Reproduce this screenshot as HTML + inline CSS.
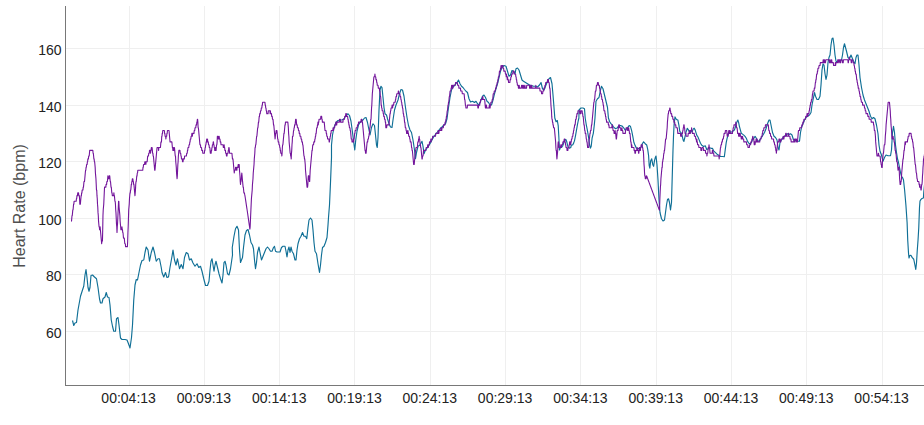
<!DOCTYPE html><html><head><meta charset="utf-8"><title>Heart Rate</title><style>html,body{margin:0;padding:0;background:#fff;}body{width:924px;height:425px;overflow:hidden;}svg{display:block;}text{font-family:"Liberation Sans",sans-serif;}</style></head><body>
<svg width="924" height="425" viewBox="0 0 924 425">
<rect width="924" height="425" fill="#fff"/>
<g stroke="#efefef" stroke-width="1" shape-rendering="crispEdges">
<line x1="129.5" y1="6" x2="129.5" y2="385"/>
<line x1="204.5" y1="6" x2="204.5" y2="385"/>
<line x1="279.5" y1="6" x2="279.5" y2="385"/>
<line x1="354.5" y1="6" x2="354.5" y2="385"/>
<line x1="430.5" y1="6" x2="430.5" y2="385"/>
<line x1="505.5" y1="6" x2="505.5" y2="385"/>
<line x1="580.5" y1="6" x2="580.5" y2="385"/>
<line x1="656.5" y1="6" x2="656.5" y2="385"/>
<line x1="731.5" y1="6" x2="731.5" y2="385"/>
<line x1="806.5" y1="6" x2="806.5" y2="385"/>
<line x1="882.5" y1="6" x2="882.5" y2="385"/>
<line x1="66" y1="48.5" x2="924" y2="48.5"/>
<line x1="66" y1="105.5" x2="924" y2="105.5"/>
<line x1="66" y1="161.5" x2="924" y2="161.5"/>
<line x1="66" y1="218.5" x2="924" y2="218.5"/>
<line x1="66" y1="274.5" x2="924" y2="274.5"/>
<line x1="66" y1="331.5" x2="924" y2="331.5"/>
</g>
<path d="M72.5,320.5 L73.75,325.5 L75,323 L76.5,322.5 L78,310 L80.5,296.25 L82.5,290 L83.75,286.25 L85,275 L86,269.5 L87,277.5 L88,287.5 L89,291.25 L90,287.5 L91,275.5 L92.5,275 L94.5,277 L96.5,278.75 L98,287.5 L99.5,298.75 L100.5,303 L102,303 L103,298.75 L105,297 L106.25,292.5 L107.5,297 L109,297.5 L110,305 L111.25,320 L112.5,326.25 L113.75,331.25 L115.5,331.25 L116.5,318.75 L118,317.5 L119,325 L120.5,338 L122,339.5 L125,339.5 L127,340 L128.5,343.75 L130,348 L131.5,337.5 L132.5,325 L133.75,300 L135,285 L136.25,279.5 L137.5,280 L139,272.5 L140.5,265 L142,260.5 L143.75,260 L145,252.5 L146.25,247 L148,250 L149.5,261.25 L151.25,252.5 L153,247 L154.5,252.5 L156.25,261.25 L158,258.75 L159.5,258.75 L161.25,267.5 L162,272.5 L163.75,277 L165.5,272.5 L167,277.5 L168.5,277 L170,267.5 L172,256.25 L173,250 L174.5,260 L176,265 L177.5,258.75 L179.5,268.75 L181.25,264.5 L183,268.75 L184.5,257.5 L186.25,252.5 L188,253.75 L189.5,260 L191.25,258.75 L193,263 L195,266.25 L197,263.75 L198.75,267.5 L200.5,266.25 L202,271.25 L203.75,278.75 L205.5,285.5 L207.5,285.5 L209,281.25 L210,270 L211,261.25 L212,258.75 L213,265 L214,271.25 L215,265 L216,261.25 L217.5,267.5 L219,273.75 L220.5,278.75 L222,283 L223,275 L224,262.5 L225,261.25 L226,265 L227.5,273.75 L229,275 L230.5,268.75 L232.5,255 L232.25,247.5 L234,236.25 L235.5,228.75 L237,226.25 L238.5,230 L239.5,250 L240.5,262.5 L241.5,260 L242.5,257.5 L243.5,247.5 L245,235 L246.5,230.5 L248,229.5 L249.5,235 L251,242.5 L252.5,245 L253.5,248.75 L254.5,260 L255.5,268.75 L256.5,262.5 L257.5,252.5 L259,247 L260,252.5 L261.5,260 L263,256.25 L264.5,252.5 L266,248.75 L267.5,247 L269,248.75 L270.5,251.25 L272,251.25 L273.5,247.5 L274.5,246.25 L275.5,251.25 L277,252 L280,252 L281.5,247.5 L283,246.25 L285,246.25 L286,251.25 L287,257 L288,250 L289,247 L290,252.5 L291,247 L292,251.25 L293.5,253.75 L295,260 L296,260 L297,250 L298,243.75 L299.5,238.75 L301,236.25 L302.5,232.5 L304,236.25 L305.5,236.25 L306.75,238.75 L308,227.5 L309,220 L310.5,218 L312,220 L313,230 L314,242.5 L315,251.25 L316.5,253.75 L318,263.75 L319.5,272.5 L320.5,265 L321.5,255 L322.5,247.5 L324,246.25 L325.5,242.5 L327,237.5 L328,225 L328.5,217.5 L329.5,205 L330.5,182.5 L331.5,157.5 L331.5,145 L332.5,135 L334,127.5 L336,122.5 L338,120.5 L340,120 L342,120 L344,118.75 L346,115.5 L348,113.75 L349.5,115.5 L351,121.25 L352.5,132.5 L353.75,142.5 L354.75,150 L355.75,140 L357,131.25 L358.5,125 L360,122.5 L361.5,121.25 L363,120 L364.5,118 L366,117.5 L367.5,122.5 L369,130 L370,135 L371.5,127.5 L373,123.75 L374.5,125.5 L375.5,135 L376.5,145 L377.25,147.5 L378,137.5 L379,110 L380,90 L381,86.25 L382,87.5 L383,97.5 L384,107.5 L385,113.75 L386.5,115 L387.5,118.75 L389,123.75 L390.5,127 L392,127.5 L393,120 L394.5,110 L396,105 L398,100 L399.5,93.75 L401,89.5 L402.5,90 L404,96.25 L405.5,107.5 L407,117.5 L408.5,125.5 L410,130 L411.5,132.5 L413,140 L414.5,150 L415.5,158.75 L416.5,152.5 L418,146.25 L420,145 L422,141.25 L423,146.25 L424,153.75 L425,151.25 L426.5,148.75 L428,147 L430,143.75 L432,140 L434,136.25 L436,133.75 L438,131.25 L440,128.75 L442,127 L444,125 L445.5,123.75 L447,118.75 L448.5,107.5 L450,97.5 L451.5,90 L453,87 L455,85 L457,82.5 L458.5,80 L460,83.75 L461.5,86.25 L463,87.5 L464.5,89.5 L466,91.25 L467.5,92.5 L469,98.75 L470.5,102 L472.5,101.25 L474.5,102.5 L476,101.25 L477.5,103.75 L479,105 L480.5,101.25 L482.5,96.25 L484,95 L485.5,97.5 L487,101.25 L488.5,102.5 L490,105 L491.5,105 L493,100 L494.5,93.75 L496,88.75 L497.5,83.75 L499,77.5 L500.5,71.25 L502,67.5 L504,65.5 L506,66.25 L507.5,71.25 L509,76.25 L510.5,75 L512,70.5 L513.5,71.25 L515,73.75 L516,68.75 L517.5,68 L519,70 L520.5,75 L522,80 L523.5,81.25 L525.5,82.5 L527.5,83.75 L529.5,85 L531.5,85.5 L533.5,86.25 L535.5,86.25 L537.5,87 L539.5,85 L541,82.5 L542.5,88.75 L544,90 L545.5,86.25 L547.5,81.25 L549,78.75 L550.5,77.5 L552,83.75 L553,95 L554,107.5 L554.81,118 L556.07,121.77 L557.32,120.51 L558.2,125.53 L558.83,136.83 L559.46,150.01 L560.71,146.87 L561.59,147.5 L562.6,146.25 L563.6,143.11 L564.48,140.6 L565.73,139.34 L566.61,141.22 L567.37,144.36 L568.25,147.5 L569.5,148.13 L570.76,147.5 L571.38,144.99 L572.64,144.99 L573.64,143.11 L574.52,140.6 L575.53,135.57 L576.4,130.55 L577.41,124.9 L578.29,120.51 L578.92,118 L579,110 L581,108 L583,108 L584.5,108.75 L585.19,118 L586.2,124.28 L587.45,130.55 L588.71,138.09 L589.59,144.99 L590.46,148.13 L591.22,146.25 L592.1,138.09 L593.35,133.06 L594.23,125.53 L594.98,118 L596,101.25 L597.5,98.75 L599,97.5 L600.5,90 L601.5,86.25 L603,88.75 L604.5,95 L606,101.25 L607.5,107.5 L608.42,118 L609.67,121.77 L610.93,123.65 L612.18,124.9 L613.44,126.79 L615.32,128.67 L617.2,128.04 L618.46,126.16 L620.34,125.53 L622.22,126.16 L623.86,128.04 L625.36,130.55 L626.62,128.67 L627.87,127.42 L629.13,125.53 L630.38,126.16 L631.64,130.55 L632.89,136.83 L633.9,142.48 L635.15,145.62 L636.41,148.13 L637.92,148.76 L639.8,148.13 L641.43,146.87 L642.31,143.73 L643.57,141.85 L645.2,143.73 L646.7,144.99 L647.71,149.38 L648.59,155.66 L649.21,165.7 L649.84,168.21 L650.72,160.68 L651.72,158.8 L652.73,164.45 L653.61,166.33 L654.49,160.68 L655.49,156.92 L656,156 L657,165 L658,180 L659,200 L660,212.5 L661.5,218.75 L663,221 L664.5,220 L665.5,212.5 L666.5,205 L667.5,199.5 L668.5,198.75 L669.5,202.5 L670.5,210 L671.5,202.5 L672,185 L672.5,167.5 L673,150 L673.5,136.38 L674.13,123.83 L675.01,116.93 L676.39,119.44 L677.89,120.06 L678.9,125.09 L679.78,131.36 L681.03,132.62 L682.29,136.38 L683.17,140.15 L683.92,141.4 L684.8,137.64 L686.05,131.99 L687.31,128.22 L688.56,130.11 L689.44,132.62 L690.7,131.99 L692.33,131.36 L693.33,128.85 L694.21,128.22 L695.22,130.11 L696.72,135.13 L697.98,137.01 L699.23,140.15 L700.49,143.29 L701.75,145.17 L703.63,146.43 L705.26,145.8 L706.77,149.56 L708.02,148.94 L709.28,147.68 L711.16,148.31 L712.42,148.31 L713.67,150.82 L714.93,152.08 L716.81,153.96 L718.69,155.21 L720.58,156.47 L722.46,156.47 L724.34,156.72 L725.35,148.94 L726.22,142.66 L727.1,138.27 L728.11,135.13 L729.36,131.99 L730.62,131.99 L731.87,131.99 L733.38,130.73 L734.38,130.11 L735.39,126.97 L736.27,123.83 L737.15,121.32 L737.9,120.06 L738.65,122.57 L739.41,126.34 L740.41,130.11 L741.29,133.25 L742.54,134.12 L743.8,135.13 L745.05,136.38 L746.31,138.27 L747.57,141.4 L748.82,143.29 L750.08,143.92 L751.33,142.66 L752.59,139.52 L753.84,138.27 L755.1,136.38 L756.35,138.27 L757.61,141.4 L758.86,140.78 L759.99,140.15 L760,139.5 L761.5,137.5 L763,135 L764.5,132.5 L766,128.75 L767.5,123.75 L769,120 L770,120 L771,125 L772.5,132.5 L774,136.25 L775.5,137.5 L777,140 L778,147.5 L779,150 L780,142.5 L781.5,140 L783,137.5 L784.5,136.25 L786,135 L787.5,133.75 L789,134.5 L790.5,133.75 L792,135 L793.5,140 L795,140 L796.5,141.25 L798,141.25 L799.5,141.25 L800.5,132.5 L801.5,127.5 L803,123.75 L804.5,120 L806,117.5 L807.5,116.25 L809.5,115 L811,112.5 L812,105 L813,100 L814.5,92.5 L815.5,96.25 L817,99.5 L818.5,99.5 L820,96.25 L821,85 L822,70 L823,63.75 L824,65 L825,73.75 L826,79.5 L827,75 L828,62.5 L829,57.5 L830,55 L831,45 L832,38.75 L833,38 L834,45 L835,55 L836,61.25 L837.5,62 L839.5,61.25 L841.5,60 L842.5,55 L843.5,47.5 L844.5,43.75 L845.5,47.5 L846.5,51.25 L848,57.5 L849.5,58.75 L851,55 L852,57.5 L853.5,61.25 L855,63.75 L856,57.5 L857,55 L858,55 L859,65 L860,77.5 L861.5,87.5 L863,95 L864.5,100 L866,103.75 L867.5,107.5 L869,111.25 L870.5,116.25 L872,118.75 L873.5,117.5 L875,118.75 L876.5,125 L878,133.75 L879,145 L880,151.25 L881.5,155 L883,161.25 L884.5,157.5 L886,155 L888,155.75 L890.5,155.75 L891.5,150 L892.5,132.5 L893.5,126.25 L894.5,132.5 L895.5,145 L896.5,152.5 L897.5,158.75 L898.5,162.5 L899.5,167.5 L900.5,172.5 L901.5,176.25 L902.5,177.5 L903.5,180 L904.6,190 L905.9,205 L907.1,222.5 L907.75,240.5 L908.5,253 L909,258 L909.75,255.5 L910.9,255.25 L912.1,257.4 L913.75,259.25 L915,265.5 L915.75,269.5 L916.5,263 L917.25,250.5 L918,240.5 L918.75,228 L919.5,207.5 L920,201 L921,199.4 L922,198.5 L923.4,198 L923.75,192.5 L924.5,185" fill="none" stroke="#0f6f96" stroke-width="1.15" stroke-linejoin="round"/>
<path d="M71.25,221.13 L71.51,221.13 L71.77,218.3 L72.03,215.47 L72.29,215.47 L72.55,212.64 L72.81,209.81 L73.07,209.81 L73.33,206.98 L73.59,204.15 L73.85,204.15 L74.11,201.32 L76.19,201.32 L76.45,198.49 L76.71,198.49 L76.97,195.66 L77.49,195.66 L77.75,192.83 L78.53,192.83 L78.79,195.66 L79.31,195.66 L79.57,198.49 L79.83,204.15 L80.35,204.15 L80.61,201.32 L80.87,198.49 L81.13,195.66 L81.39,195.66 L81.65,192.83 L81.91,192.83 L82.17,190 L82.95,190 L83.21,187.17 L83.47,187.17 L83.73,184.34 L83.99,181.51 L84.51,181.51 L84.77,178.68 L85.03,175.85 L85.29,173.02 L85.55,170.19 L85.81,170.19 L86.07,167.36 L86.33,167.36 L86.59,164.53 L87.11,164.53 L87.37,161.7 L87.63,161.7 L87.89,158.87 L88.41,158.87 L88.67,156.04 L88.93,156.04 L89.19,156.04 L89.45,153.21 L89.71,150.38 L92.83,150.38 L93.09,153.21 L93.35,153.21 L93.61,156.04 L93.87,158.87 L94.13,158.87 L94.39,161.7 L94.65,161.7 L94.91,164.53 L95.17,167.36 L95.43,173.02 L95.69,175.85 L95.95,178.68 L96.21,184.34 L96.47,190 L96.73,190 L96.99,195.66 L97.25,198.49 L97.51,204.15 L97.77,206.98 L98.03,212.64 L98.29,215.47 L98.55,221.13 L98.81,223.96 L99.07,226.79 L99.33,226.79 L99.59,229.62 L99.85,229.62 L100.11,226.79 L100.37,229.62 L100.63,232.45 L100.89,235.28 L101.15,238.11 L101.41,240.94 L101.67,243.77 L101.93,240.94 L102.45,240.94 L102.71,229.62 L102.97,215.47 L103.23,209.81 L103.49,206.98 L103.75,204.15 L104.01,198.49 L104.27,192.83 L104.53,187.17 L104.79,187.17 L105.05,187.17 L105.31,187.17 L105.57,187.17 L105.83,187.17 L106.09,184.34 L106.61,184.34 L106.87,181.51 L107.39,181.51 L107.65,178.68 L107.91,175.85 L108.17,178.68 L108.95,178.68 L109.21,175.85 L109.47,175.85 L109.73,175.85 L109.99,178.68 L110.25,181.51 L110.51,181.51 L110.77,184.34 L111.03,187.17 L111.29,187.17 L111.55,190 L111.81,192.83 L112.07,192.83 L112.33,195.66 L113.63,195.66 L113.89,192.83 L114.15,195.66 L114.41,195.66 L114.67,198.49 L114.93,201.32 L115.19,201.32 L115.45,204.15 L115.71,209.81 L115.97,212.64 L116.23,218.3 L116.49,223.96 L116.75,226.79 L117.01,232.45 L117.27,226.79 L117.53,223.96 L117.79,218.3 L118.05,212.64 L118.31,206.98 L118.57,201.32 L118.83,201.32 L119.09,206.98 L119.35,209.81 L119.61,212.64 L119.87,215.47 L120.13,221.13 L120.39,223.96 L120.65,226.79 L120.91,229.62 L121.69,229.62 L121.95,226.79 L122.21,229.62 L122.47,229.62 L122.73,232.45 L122.99,232.45 L123.25,235.28 L123.51,238.11 L124.29,238.11 L124.55,240.94 L124.81,243.77 L125.33,243.77 L125.59,246.6 L127.41,246.6 L127.67,240.94 L127.93,232.45 L128.19,226.79 L128.45,218.3 L128.71,209.81 L128.97,206.98 L129.23,204.15 L129.49,198.49 L129.75,195.66 L130.01,192.83 L130.27,192.83 L130.53,190 L130.79,190 L131.05,187.17 L131.31,184.34 L131.57,184.34 L131.83,181.51 L132.09,181.51 L132.35,178.68 L132.87,178.68 L133.13,181.51 L133.39,181.51 L133.65,184.34 L133.91,184.34 L134.17,187.17 L134.43,190 L134.69,192.83 L134.95,195.66 L135.21,192.83 L135.47,190 L135.73,184.34 L135.99,181.51 L136.25,181.51 L136.51,178.68 L136.77,175.85 L137.03,175.85 L137.29,173.02 L137.55,173.02 L137.81,170.19 L142.75,170.19 L143.01,167.36 L143.27,167.36 L143.53,164.53 L144.57,164.53 L144.83,161.7 L145.61,161.7 L145.87,164.53 L146.13,161.7 L147.17,161.7 L147.43,158.87 L147.69,156.04 L147.95,156.04 L148.21,156.04 L148.47,156.04 L148.73,153.21 L149.25,153.21 L149.51,150.38 L150.29,150.38 L150.55,153.21 L150.81,150.38 L151.07,150.38 L151.33,147.55 L152.11,147.55 L152.37,150.38 L152.63,153.21 L152.89,153.21 L153.15,156.04 L153.41,156.04 L153.67,158.87 L153.93,161.7 L154.19,164.53 L154.45,167.36 L154.71,170.19 L154.97,170.19 L155.23,167.36 L155.49,164.53 L155.75,161.7 L156.01,158.87 L156.27,156.04 L156.53,153.21 L156.79,150.38 L157.05,147.55 L158.35,147.55 L158.61,150.38 L158.87,147.55 L160.43,147.55 L160.69,144.72 L160.95,141.89 L161.47,141.89 L161.73,136.23 L161.99,136.23 L162.25,133.4 L162.51,133.4 L162.77,130.57 L164.33,130.57 L164.59,133.4 L164.85,133.4 L165.11,136.23 L165.37,136.23 L165.63,136.23 L165.89,139.06 L166.15,136.23 L166.41,136.23 L166.67,136.23 L166.93,133.4 L167.19,133.4 L167.45,130.57 L169.01,130.57 L169.27,133.4 L169.53,136.23 L169.79,139.06 L170.05,141.89 L171.87,141.89 L172.13,144.72 L172.39,147.55 L172.65,147.55 L172.91,150.38 L173.17,147.55 L173.43,147.55 L173.69,150.38 L173.95,150.38 L174.21,147.55 L174.47,147.55 L174.73,150.38 L174.99,153.21 L175.25,156.04 L175.51,156.04 L175.77,161.7 L176.03,164.53 L176.29,167.36 L176.55,173.02 L176.81,175.85 L177.07,178.68 L177.33,175.85 L177.59,170.19 L177.85,164.53 L178.11,161.7 L178.37,156.04 L178.63,153.21 L178.89,150.38 L179.93,150.38 L180.19,153.21 L180.71,153.21 L180.97,156.04 L181.23,156.04 L181.49,158.87 L182.27,158.87 L182.53,161.7 L183.05,161.7 L183.31,158.87 L184.35,158.87 L184.61,156.04 L184.87,156.04 L185.13,156.04 L185.39,156.04 L185.65,156.04 L185.91,156.04 L186.17,156.04 L186.43,156.04 L186.69,153.21 L187.21,153.21 L187.47,150.38 L187.73,150.38 L187.99,147.55 L188.77,147.55 L189.03,144.72 L189.55,144.72 L189.81,141.89 L190.07,141.89 L190.33,139.06 L190.85,139.06 L191.11,136.23 L191.37,136.23 L191.63,136.23 L191.89,133.4 L192.15,133.4 L192.41,136.23 L192.67,133.4 L193.97,133.4 L194.23,130.57 L194.75,130.57 L195.01,127.74 L195.27,127.74 L195.53,127.74 L195.79,127.74 L196.05,124.91 L196.57,124.91 L196.83,122.08 L197.09,122.08 L197.35,119.25 L197.61,119.25 L197.87,122.08 L198.13,127.74 L198.39,127.74 L198.65,130.57 L198.91,133.4 L199.17,136.23 L199.43,139.06 L199.69,141.89 L199.95,144.72 L200.47,144.72 L200.73,147.55 L201.51,147.55 L201.77,150.38 L202.55,150.38 L202.81,153.21 L204.37,153.21 L204.63,150.38 L204.89,150.38 L205.15,147.55 L205.41,147.55 L205.67,144.72 L205.93,144.72 L206.19,141.89 L206.45,141.89 L206.71,139.06 L206.97,141.89 L207.23,141.89 L207.49,139.06 L207.75,141.89 L208.27,141.89 L208.53,144.72 L209.05,144.72 L209.31,147.55 L209.83,147.55 L210.09,150.38 L210.35,153.21 L211.13,153.21 L211.39,150.38 L211.65,150.38 L211.91,147.55 L212.17,147.55 L212.43,144.72 L212.95,144.72 L213.21,141.89 L213.47,141.89 L213.73,144.72 L213.99,144.72 L214.25,147.55 L214.51,147.55 L214.77,150.38 L215.03,150.38 L215.29,147.55 L215.55,147.55 L215.81,150.38 L216.07,150.38 L216.33,147.55 L216.59,144.72 L216.85,144.72 L217.11,141.89 L217.37,136.23 L217.63,136.23 L217.89,136.23 L218.15,136.23 L218.41,139.06 L218.67,139.06 L218.93,136.23 L219.19,136.23 L219.45,139.06 L219.97,139.06 L220.23,141.89 L220.75,141.89 L221.01,144.72 L223.09,144.72 L223.35,147.55 L223.87,147.55 L224.13,144.72 L224.39,147.55 L224.65,147.55 L224.91,150.38 L225.43,150.38 L225.69,153.21 L226.21,153.21 L226.47,156.04 L226.73,156.04 L226.99,156.04 L227.25,153.21 L228.03,153.21 L228.29,150.38 L228.55,150.38 L228.81,147.55 L229.07,147.55 L229.33,150.38 L229.59,153.21 L231.93,153.21 L232.19,156.04 L232.45,158.87 L232.97,158.87 L233.23,161.7 L233.49,164.53 L233.75,167.36 L234.01,170.19 L234.27,173.02 L234.53,170.19 L235.31,170.19 L235.57,167.36 L236.35,167.36 L236.61,170.19 L236.87,170.19 L237.13,167.36 L237.91,167.36 L238.17,164.53 L238.69,164.53 L238.95,167.36 L239.21,164.53 L239.47,170.19 L239.73,173.02 L239.99,175.85 L240.25,181.51 L240.51,184.34 L240.77,181.51 L241.03,181.51 L241.29,178.68 L241.55,175.85 L241.81,173.02 L242.07,175.85 L242.33,178.68 L242.59,181.51 L242.85,184.34 L243.11,187.17 L243.37,187.17 L243.63,190 L243.89,192.83 L244.41,192.83 L244.67,194.39 L244.93,195.66 L245.19,197.25 L245.45,198.97 L245.71,200.69 L245.97,202.4 L246.23,204.12 L246.49,205.83 L246.75,207.55 L247.01,209.27 L247.27,210.98 L247.53,212.71 L247.79,214.53 L248.05,216.35 L248.31,218.17 L248.57,219.99 L248.83,221.81 L249.09,223.63 L249.35,225.45 L249.61,227.27 L249.87,229.09 L250.13,227.14 L250.39,221.13 L250.65,215.47 L250.91,209.81 L251.17,204.15 L251.43,198.49 L251.69,195.66 L251.95,192.83 L252.21,190 L252.47,184.34 L252.73,181.51 L252.99,178.68 L253.25,173.02 L253.51,170.19 L253.77,167.36 L254.03,164.53 L254.29,158.87 L254.55,156.04 L254.81,153.21 L255.07,147.55 L255.33,147.55 L255.59,144.72 L255.85,144.72 L256.11,141.89 L256.37,139.06 L256.63,136.23 L256.89,136.23 L257.15,133.4 L257.41,130.57 L257.67,127.74 L257.93,127.74 L258.19,124.91 L258.45,122.08 L258.71,122.08 L258.97,119.25 L259.23,116.42 L259.49,116.42 L259.75,113.59 L260.27,113.59 L260.53,110.76 L261.05,110.76 L261.31,107.93 L261.83,107.93 L262.09,105.1 L262.35,105.1 L262.61,102.27 L262.87,102.27 L263.13,102.27 L263.39,102.27 L263.65,102.27 L263.91,102.27 L264.17,102.27 L264.43,102.27 L264.69,102.27 L264.95,102.27 L265.21,105.1 L265.47,105.1 L265.73,107.93 L265.99,107.93 L266.25,110.76 L266.51,110.76 L266.77,113.59 L268.07,113.59 L268.33,110.76 L269.89,110.76 L270.15,113.59 L270.41,110.76 L270.67,113.59 L271.45,113.59 L271.71,116.42 L272.23,116.42 L272.49,119.25 L273.01,119.25 L273.27,122.08 L273.53,124.91 L273.79,124.91 L274.05,127.74 L274.31,130.57 L274.57,133.4 L274.83,136.23 L275.09,139.06 L275.35,136.23 L275.61,133.4 L275.87,133.4 L276.13,130.57 L276.91,130.57 L277.17,133.4 L277.43,136.23 L277.69,139.06 L277.95,139.06 L278.21,141.89 L278.73,141.89 L278.99,144.72 L279.51,144.72 L279.77,147.55 L280.03,147.55 L280.29,150.38 L280.55,150.38 L280.81,153.21 L281.59,153.21 L281.85,156.04 L282.11,153.21 L282.37,147.55 L282.63,144.72 L282.89,144.72 L283.15,141.89 L283.41,139.06 L283.67,136.23 L283.93,133.4 L284.19,133.4 L284.45,130.57 L284.71,127.74 L284.97,124.91 L285.23,124.91 L285.49,122.08 L287.83,122.08 L288.09,124.91 L288.35,127.74 L288.61,133.4 L288.87,136.23 L289.13,141.89 L289.39,144.72 L289.65,147.55 L289.91,150.38 L290.17,153.21 L290.43,153.21 L290.69,156.04 L290.95,156.04 L291.21,158.87 L291.47,153.21 L291.73,150.38 L291.99,144.72 L292.25,141.89 L292.51,136.23 L292.77,136.23 L293.03,136.23 L293.29,133.4 L293.55,130.57 L293.81,130.57 L294.07,127.74 L294.33,127.74 L294.59,124.91 L295.11,124.91 L295.37,122.08 L295.63,119.25 L296.15,119.25 L296.41,122.08 L296.67,124.91 L297.19,124.91 L297.45,127.74 L297.71,127.74 L297.97,127.74 L298.23,127.74 L298.49,130.57 L299.01,130.57 L299.27,133.4 L299.79,133.4 L300.05,136.23 L300.31,136.23 L300.57,136.23 L300.83,136.23 L301.09,139.06 L301.61,139.06 L301.87,141.89 L302.39,141.89 L302.65,144.72 L302.91,144.72 L303.17,147.55 L303.43,150.38 L303.69,153.21 L303.95,156.04 L304.21,156.04 L304.47,158.87 L304.73,158.87 L304.99,161.7 L305.25,164.53 L305.51,170.19 L305.77,173.02 L306.03,175.85 L306.29,178.68 L306.55,181.51 L306.81,184.34 L307.07,187.17 L307.33,187.17 L307.59,187.17 L307.85,184.34 L308.11,178.68 L308.37,175.85 L308.63,175.85 L308.89,175.85 L309.15,178.68 L309.41,181.51 L309.67,181.51 L309.93,175.85 L310.19,170.19 L310.45,167.36 L310.71,164.53 L310.97,161.7 L311.23,158.87 L311.49,156.04 L311.75,153.21 L312.01,150.38 L312.27,150.38 L312.53,147.55 L312.79,144.72 L313.57,144.72 L313.83,141.89 L314.61,141.89 L314.87,139.06 L315.13,139.06 L315.39,136.23 L315.65,136.23 L315.91,133.4 L316.17,133.4 L316.43,130.57 L316.69,127.74 L316.95,127.74 L317.21,127.74 L317.47,124.91 L317.73,124.91 L317.99,122.08 L318.25,124.91 L318.51,122.08 L318.77,122.08 L319.03,119.25 L320.59,119.25 L320.85,116.42 L321.63,116.42 L321.89,119.25 L322.15,119.25 L322.41,122.08 L324.23,122.08 L324.49,124.91 L324.75,127.74 L325.01,130.57 L326.05,130.57 L326.31,133.4 L326.57,133.4 L326.83,136.23 L327.09,136.23 L327.35,136.23 L327.61,139.06 L328.91,139.06 L329.17,141.89 L329.43,141.89 L329.69,139.06 L329.95,139.06 L330.21,136.23 L330.47,136.23 L330.73,133.4 L330.99,133.4 L331.25,130.57 L332.81,130.57 L333.07,127.74 L333.33,130.57 L333.59,130.57 L333.85,127.74 L334.11,127.74 L334.37,127.74 L334.63,127.74 L334.89,124.91 L335.67,124.91 L335.93,122.08 L336.19,122.08 L336.45,124.91 L336.71,124.91 L336.97,122.08 L339.31,122.08 L339.57,119.25 L340.35,119.25 L340.61,122.08 L342.95,122.08 L343.21,119.25 L344.51,119.25 L344.77,116.42 L345.55,116.42 L345.81,113.59 L346.33,113.59 L346.59,116.42 L347.63,116.42 L347.89,119.25 L348.15,119.25 L348.41,122.08 L348.67,122.08 L348.93,124.91 L349.19,124.91 L349.45,127.74 L349.71,127.74 L349.97,127.74 L350.23,130.57 L350.49,130.57 L350.75,133.4 L351.01,136.23 L351.27,139.06 L351.79,139.06 L352.05,141.89 L353.09,141.89 L353.35,139.06 L353.61,141.89 L353.87,139.06 L354.13,139.06 L354.39,136.23 L354.65,133.4 L354.91,133.4 L355.17,130.57 L355.95,130.57 L356.21,127.74 L356.47,127.74 L356.73,127.74 L356.99,127.74 L357.25,127.74 L357.51,124.91 L358.29,124.91 L358.55,122.08 L360.89,122.08 L361.15,119.25 L361.93,119.25 L362.19,122.08 L362.45,122.08 L362.71,124.91 L362.97,127.74 L363.23,130.57 L363.49,133.4 L363.75,136.23 L364.01,139.06 L364.27,141.89 L364.53,144.72 L364.79,147.55 L365.05,150.38 L365.31,150.38 L365.57,153.21 L366.09,153.21 L366.35,150.38 L366.61,147.55 L366.87,144.72 L367.13,141.89 L367.65,141.89 L367.91,139.06 L368.43,139.06 L368.69,136.23 L368.95,136.23 L369.21,133.4 L369.47,133.4 L369.73,127.74 L369.99,127.74 L370.25,124.91 L370.51,122.08 L370.77,119.25 L371.03,119.25 L371.29,113.59 L371.55,107.93 L371.81,105.1 L372.07,99.44 L372.33,93.78 L372.59,90.95 L372.85,88.12 L373.11,85.29 L373.37,82.46 L373.63,79.63 L373.89,76.8 L374.67,76.8 L374.93,73.97 L375.19,76.8 L375.71,76.8 L375.97,79.63 L376.49,79.63 L376.75,82.46 L377.01,82.46 L377.27,85.29 L377.53,85.29 L377.79,85.29 L378.05,85.29 L378.31,88.12 L379.35,88.12 L379.61,90.95 L379.87,90.95 L380.13,93.78 L380.39,96.61 L380.65,96.61 L380.91,99.44 L381.17,105.1 L381.43,105.1 L381.69,107.93 L381.95,107.93 L382.21,110.76 L382.99,110.76 L383.25,113.59 L383.51,113.59 L383.77,116.42 L384.29,116.42 L384.55,119.25 L385.07,119.25 L385.33,122.08 L385.59,122.08 L385.85,127.74 L386.11,127.74 L386.37,127.74 L386.63,127.74 L386.89,124.91 L388.97,124.91 L389.23,122.08 L389.49,119.25 L389.75,116.42 L390.01,113.59 L390.27,113.59 L390.53,110.76 L390.79,110.76 L391.05,107.93 L391.83,107.93 L392.09,105.1 L392.35,105.1 L392.61,107.93 L392.87,105.1 L393.65,105.1 L393.91,102.27 L394.17,102.27 L394.43,102.27 L394.69,102.27 L394.95,102.27 L395.21,102.27 L395.47,99.44 L395.73,99.44 L395.99,96.61 L396.51,96.61 L396.77,93.78 L398.07,93.78 L398.33,90.95 L398.59,90.95 L398.85,93.78 L399.89,93.78 L400.15,96.61 L400.67,96.61 L400.93,99.44 L401.19,99.44 L401.45,102.27 L401.71,102.27 L401.97,105.1 L402.23,105.1 L402.49,107.93 L402.75,107.93 L403.01,110.76 L403.27,113.59 L403.53,113.59 L403.79,116.42 L404.05,116.42 L404.31,119.25 L404.57,122.08 L404.83,122.08 L405.09,124.91 L405.35,127.74 L405.61,127.74 L405.87,127.74 L406.13,130.57 L406.39,130.57 L406.65,133.4 L407.43,133.4 L407.69,130.57 L407.95,130.57 L408.21,133.4 L408.47,133.4 L408.73,136.23 L408.99,136.23 L409.25,136.23 L409.51,136.23 L409.77,139.06 L410.03,139.06 L410.29,141.89 L411.07,141.89 L411.33,144.72 L411.59,147.55 L411.85,147.55 L412.11,150.38 L412.37,150.38 L412.63,153.21 L412.89,156.04 L413.15,158.87 L413.41,161.7 L413.67,164.53 L414.19,164.53 L414.45,161.7 L414.71,158.87 L414.97,156.04 L415.23,153.21 L415.49,150.38 L415.75,150.38 L416.01,147.55 L417.31,147.55 L417.57,144.72 L417.83,141.89 L418.35,141.89 L418.61,139.06 L418.87,139.06 L419.13,136.23 L419.39,139.06 L419.65,139.06 L419.91,141.89 L420.17,144.72 L420.43,144.72 L420.69,147.55 L420.95,147.55 L421.21,150.38 L421.47,153.21 L421.73,156.04 L421.99,158.87 L422.25,158.87 L422.51,156.04 L422.77,156.04 L423.03,156.04 L423.29,153.21 L423.55,150.38 L425.89,150.38 L426.15,147.55 L427.45,147.55 L427.71,144.72 L427.97,147.55 L428.23,147.55 L428.49,144.72 L429.27,144.72 L429.53,141.89 L430.57,141.89 L430.83,139.06 L431.09,141.89 L431.35,139.06 L432.39,139.06 L432.65,136.23 L432.91,136.23 L433.17,136.23 L433.43,136.23 L433.69,136.23 L433.95,136.23 L434.21,136.23 L434.47,136.23 L434.73,136.23 L434.99,136.23 L435.25,136.23 L435.51,136.23 L435.77,133.4 L437.85,133.4 L438.11,130.57 L438.37,133.4 L438.63,130.57 L438.89,133.4 L439.15,130.57 L440.71,130.57 L440.97,127.74 L441.23,127.74 L441.49,130.57 L441.75,130.57 L442.01,127.74 L442.27,127.74 L442.53,127.74 L442.79,127.74 L443.05,127.74 L443.31,127.74 L443.57,124.91 L444.87,124.91 L445.13,122.08 L445.65,122.08 L445.91,119.25 L446.17,119.25 L446.43,116.42 L446.69,116.42 L446.95,113.59 L447.21,110.76 L447.47,110.76 L447.73,107.93 L447.99,105.1 L448.25,105.1 L448.51,102.27 L448.77,102.27 L449.03,99.44 L449.29,96.61 L449.55,96.61 L449.81,93.78 L450.07,90.95 L450.85,90.95 L451.11,88.12 L451.37,88.12 L451.63,85.29 L451.89,88.12 L452.15,88.12 L452.41,85.29 L452.67,85.29 L452.93,88.12 L453.19,85.29 L453.45,85.29 L453.71,85.29 L453.97,85.29 L454.23,85.29 L454.49,85.29 L454.75,85.29 L455.01,85.29 L455.27,85.29 L455.53,82.46 L455.79,82.46 L456.05,82.46 L456.31,82.46 L456.57,82.46 L456.83,82.46 L457.09,82.46 L457.35,82.46 L457.61,85.29 L457.87,85.29 L458.13,85.29 L458.39,85.29 L458.65,85.29 L458.91,88.12 L460.47,88.12 L460.73,90.95 L462.03,90.95 L462.29,93.78 L464.11,93.78 L464.37,96.61 L464.63,99.44 L464.89,99.44 L465.15,102.27 L465.41,105.1 L465.67,105.1 L465.93,107.93 L467.23,107.93 L467.49,105.1 L477.63,105.1 L477.89,107.93 L478.41,107.93 L478.67,105.1 L479.71,105.1 L479.97,102.27 L480.23,102.27 L480.49,102.27 L480.75,99.44 L482.31,99.44 L482.57,96.61 L482.83,96.61 L483.09,99.44 L484.65,99.44 L484.91,102.27 L485.17,105.1 L485.43,107.93 L485.95,107.93 L486.21,105.1 L486.47,105.1 L486.73,107.93 L489.07,107.93 L489.33,105.1 L489.59,105.1 L489.85,107.93 L490.11,107.93 L490.37,105.1 L490.63,105.1 L490.89,102.27 L491.15,102.27 L491.41,102.27 L491.67,102.27 L491.93,102.27 L492.19,99.44 L492.71,99.44 L492.97,96.61 L493.23,93.78 L494.01,93.78 L494.27,90.95 L495.31,90.95 L495.57,88.12 L496.09,88.12 L496.35,85.29 L496.61,85.29 L496.87,85.29 L497.13,82.46 L497.39,82.46 L497.65,82.46 L497.91,79.63 L498.17,79.63 L498.43,76.8 L498.95,76.8 L499.21,73.97 L499.47,71.14 L500.25,71.14 L500.51,68.31 L500.77,68.31 L501.03,65.48 L501.29,68.31 L501.55,68.31 L501.81,65.48 L502.85,65.48 L503.11,68.31 L503.63,68.31 L503.89,71.14 L505.19,71.14 L505.45,73.97 L505.97,73.97 L506.23,76.8 L506.49,73.97 L506.75,76.8 L507.01,76.8 L507.27,79.63 L507.53,76.8 L507.79,79.63 L508.31,79.63 L508.57,82.46 L508.83,82.46 L509.09,82.46 L509.35,82.46 L509.61,82.46 L509.87,82.46 L510.13,79.63 L510.65,79.63 L510.91,76.8 L511.43,76.8 L511.69,73.97 L512.73,73.97 L512.99,71.14 L514.03,71.14 L514.29,73.97 L515.59,73.97 L515.85,76.8 L516.11,76.8 L516.37,79.63 L516.63,79.63 L516.89,82.46 L517.15,82.46 L517.41,85.29 L517.67,85.29 L517.93,85.29 L518.19,85.29 L518.45,88.12 L518.71,88.12 L518.97,85.29 L519.23,85.29 L519.49,88.12 L521.31,88.12 L521.57,85.29 L521.83,85.29 L522.09,85.29 L522.35,85.29 L522.61,88.12 L522.87,88.12 L523.13,85.29 L523.39,85.29 L523.65,88.12 L524.43,88.12 L524.69,85.29 L524.95,85.29 L525.21,88.12 L526.51,88.12 L526.77,85.29 L527.03,85.29 L527.29,85.29 L527.55,85.29 L527.81,85.29 L528.07,85.29 L528.33,85.29 L528.59,85.29 L528.85,85.29 L529.11,85.29 L529.37,85.29 L529.63,88.12 L529.89,85.29 L530.15,85.29 L530.41,88.12 L531.19,88.12 L531.45,85.29 L531.71,85.29 L531.97,88.12 L535.61,88.12 L535.87,85.29 L536.13,88.12 L539.77,88.12 L540.03,90.95 L541.33,90.95 L541.59,93.78 L542.63,93.78 L542.89,90.95 L543.67,90.95 L543.93,88.12 L544.71,88.12 L544.97,85.29 L545.23,85.29 L545.49,85.29 L545.75,82.46 L546.01,82.46 L546.27,82.46 L546.53,82.46 L546.79,82.46 L547.05,82.46 L547.31,82.46 L547.57,79.63 L548.35,79.63 L548.61,82.46 L548.87,82.46 L549.13,82.46 L549.39,85.29 L549.65,88.12 L549.91,88.12 L550.17,90.95 L550.43,96.61 L550.69,99.44 L550.95,105.1 L551.21,107.93 L551.47,110.76 L551.73,116.42 L551.99,119.25 L552.25,119.25 L552.51,122.08 L552.77,122.08 L553.03,124.91 L553.29,124.91 L553.55,127.74 L553.81,127.74 L554.07,127.74 L554.33,127.74 L554.59,130.57 L554.85,133.4 L555.11,136.23 L555.37,139.06 L555.63,141.89 L555.89,147.55 L556.15,150.38 L556.41,150.38 L556.67,156.04 L556.93,158.87 L557.19,156.04 L557.45,153.21 L557.71,150.38 L557.97,144.72 L558.23,141.89 L558.49,141.89 L558.75,144.72 L559.01,147.55 L560.57,147.55 L560.83,144.72 L561.09,147.55 L561.35,147.55 L561.61,144.72 L562.65,144.72 L562.91,141.89 L563.95,141.89 L564.21,139.06 L564.73,139.06 L564.99,141.89 L565.25,141.89 L565.51,144.72 L565.77,144.72 L566.03,147.55 L566.81,147.55 L567.07,150.38 L567.85,150.38 L568.11,147.55 L568.89,147.55 L569.15,144.72 L569.41,144.72 L569.67,141.89 L569.93,141.89 L570.19,144.72 L570.45,141.89 L570.71,144.72 L570.97,141.89 L571.23,141.89 L571.49,139.06 L572.01,139.06 L572.27,136.23 L572.53,136.23 L572.79,136.23 L573.05,133.4 L573.31,133.4 L573.57,130.57 L573.83,130.57 L574.09,127.74 L574.35,127.74 L574.61,124.91 L575.13,124.91 L575.39,122.08 L575.65,119.25 L576.17,119.25 L576.43,116.42 L576.69,116.42 L576.95,113.59 L577.73,113.59 L577.99,110.76 L579.55,110.76 L579.81,113.59 L580.07,113.59 L580.33,110.76 L580.59,110.76 L580.85,113.59 L581.11,110.76 L582.15,110.76 L582.41,113.59 L582.67,113.59 L582.93,116.42 L583.19,116.42 L583.45,119.25 L583.71,122.08 L583.97,124.91 L584.23,124.91 L584.49,127.74 L584.75,130.57 L585.01,130.57 L585.27,133.4 L585.79,133.4 L586.05,136.23 L586.31,139.06 L586.57,139.06 L586.83,141.89 L587.09,141.89 L587.35,144.72 L587.61,147.55 L588.65,147.55 L588.91,144.72 L589.17,139.06 L589.43,139.06 L589.69,136.23 L589.95,133.4 L590.21,133.4 L590.47,130.57 L590.99,130.57 L591.25,127.74 L591.51,124.91 L591.77,124.91 L592.03,122.08 L592.29,119.25 L592.55,116.42 L592.81,113.59 L593.07,110.76 L593.33,107.93 L593.59,105.1 L593.85,102.27 L594.11,102.27 L594.37,99.44 L594.63,99.44 L594.89,96.61 L595.15,93.78 L595.41,90.95 L595.93,90.95 L596.19,88.12 L596.45,85.29 L596.71,85.29 L596.97,85.29 L597.23,85.29 L597.49,82.46 L597.75,82.46 L598.01,82.46 L598.27,82.46 L598.53,85.29 L598.79,85.29 L599.05,85.29 L599.31,85.29 L599.57,88.12 L599.83,88.12 L600.09,90.95 L600.35,90.95 L600.61,93.78 L601.13,93.78 L601.39,96.61 L601.65,96.61 L601.91,99.44 L602.43,99.44 L602.69,102.27 L602.95,102.27 L603.21,105.1 L603.47,105.1 L603.73,107.93 L603.99,110.76 L604.77,110.76 L605.03,113.59 L605.29,113.59 L605.55,116.42 L605.81,116.42 L606.07,119.25 L606.33,119.25 L606.59,122.08 L608.15,122.08 L608.41,124.91 L608.93,124.91 L609.19,127.74 L609.45,127.74 L609.71,127.74 L609.97,127.74 L610.23,127.74 L610.49,127.74 L610.75,127.74 L611.01,127.74 L611.27,127.74 L611.53,127.74 L611.79,127.74 L612.05,124.91 L612.31,124.91 L612.57,127.74 L612.83,127.74 L613.09,130.57 L613.87,130.57 L614.13,133.4 L614.91,133.4 L615.17,130.57 L615.43,133.4 L615.69,133.4 L615.95,136.23 L616.21,139.06 L616.47,139.06 L616.73,136.23 L616.99,133.4 L617.25,130.57 L618.03,130.57 L618.29,127.74 L618.55,127.74 L618.81,124.91 L619.33,124.91 L619.59,127.74 L619.85,127.74 L620.11,127.74 L620.37,127.74 L620.63,127.74 L620.89,130.57 L621.67,130.57 L621.93,127.74 L622.19,130.57 L622.71,130.57 L622.97,133.4 L625.31,133.4 L625.57,130.57 L625.83,130.57 L626.09,127.74 L626.35,127.74 L626.61,127.74 L626.87,127.74 L627.13,127.74 L627.39,127.74 L627.65,130.57 L627.91,130.57 L628.17,127.74 L628.43,127.74 L628.69,127.74 L628.95,130.57 L629.21,130.57 L629.47,133.4 L629.99,133.4 L630.25,136.23 L630.51,139.06 L630.77,141.89 L631.03,141.89 L631.29,144.72 L631.55,147.55 L631.81,144.72 L632.07,147.55 L633.89,147.55 L634.15,150.38 L634.67,150.38 L634.93,153.21 L635.45,153.21 L635.71,150.38 L636.75,150.38 L637.01,147.55 L637.27,147.55 L637.53,150.38 L638.31,150.38 L638.57,153.21 L638.83,153.21 L639.09,150.38 L639.35,147.55 L639.61,150.38 L639.87,147.55 L640.13,150.38 L640.39,150.38 L640.65,147.55 L640.91,147.55 L641.17,144.72 L642.21,144.72 L642.47,147.55 L642.73,147.55 L642.99,150.38 L643.25,150.38 L643.51,153.21 L643.77,158.87 L644.03,164.53 L644.29,167.36 L644.55,173.02 L644.81,175.85 L645.07,175.85 L645.33,178.68 L646.11,178.68 L646.37,175.92 L646.63,175.85 L646.89,176.55 L647.15,177.25 L647.41,177.95 L647.67,178.65 L647.93,179.35 L648.19,180.05 L648.45,180.75 L648.71,181.45 L648.97,182.15 L649.23,182.85 L649.49,183.55 L649.75,184.25 L650.01,184.95 L650.27,185.65 L650.53,186.35 L650.79,187.05 L651.05,187.75 L651.31,188.45 L651.57,189.15 L651.83,189.85 L652.09,190.55 L652.35,191.25 L652.61,191.95 L652.87,192.65 L653.13,193.35 L653.39,194.05 L653.65,194.75 L653.91,195.45 L654.17,196.15 L654.43,196.85 L654.69,197.55 L654.95,198.25 L655.21,198.95 L655.47,199.65 L655.73,200.35 L655.99,201.05 L656.25,201.75 L656.51,202.45 L656.77,203.15 L657.03,203.85 L657.29,204.55 L657.55,205.25 L657.81,205.95 L658.07,206.65 L658.33,207.35 L658.59,208.05 L658.85,208.75 L659.11,209.45 L659.37,210.15 L659.63,206.98 L659.89,198.49 L660.15,192.83 L660.41,187.17 L660.67,184.34 L660.93,178.68 L661.19,175.85 L661.45,173.02 L661.71,170.19 L661.97,167.36 L662.23,167.36 L662.49,161.7 L662.75,161.7 L663.01,158.87 L663.27,158.87 L663.53,156.04 L663.79,153.21 L664.05,153.21 L664.31,150.38 L664.57,150.38 L664.83,147.55 L665.09,144.72 L665.35,141.89 L665.61,139.06 L666.13,139.06 L666.39,136.23 L666.65,133.4 L666.91,130.57 L667.17,127.74 L667.43,122.08 L667.69,119.25 L667.95,116.42 L668.21,113.59 L668.47,113.59 L668.73,110.76 L669.51,110.76 L669.77,107.93 L670.03,107.93 L670.29,110.76 L670.55,110.76 L670.81,113.59 L671.59,113.59 L671.85,116.42 L672.63,116.42 L672.89,119.25 L673.67,119.25 L673.93,122.08 L674.71,122.08 L674.97,124.91 L675.75,124.91 L676.01,127.74 L676.27,127.74 L676.53,127.74 L676.79,127.74 L677.05,127.74 L677.31,127.74 L677.57,130.57 L677.83,133.4 L680.43,133.4 L680.69,136.23 L680.95,136.23 L681.21,136.23 L681.47,136.23 L681.73,136.23 L681.99,133.4 L682.51,133.4 L682.77,130.57 L683.03,130.57 L683.29,127.74 L683.55,127.74 L683.81,124.91 L684.07,124.91 L684.33,127.74 L684.59,127.74 L684.85,130.57 L685.11,133.4 L685.89,133.4 L686.15,136.23 L686.41,136.23 L686.67,136.23 L686.93,136.23 L687.19,136.23 L687.45,136.23 L687.71,136.23 L687.97,136.23 L688.23,133.4 L689.27,133.4 L689.53,130.57 L689.79,130.57 L690.05,133.4 L690.31,133.4 L690.57,130.57 L691.35,130.57 L691.61,127.74 L691.87,130.57 L692.13,130.57 L692.39,133.4 L694.21,133.4 L694.47,136.23 L694.73,136.23 L694.99,136.23 L695.25,136.23 L695.51,136.23 L695.77,139.06 L696.29,139.06 L696.55,141.89 L696.81,139.06 L697.07,141.89 L697.33,141.89 L697.59,144.72 L698.63,144.72 L698.89,147.55 L700.71,147.55 L700.97,150.38 L701.75,150.38 L702.01,147.55 L703.31,147.55 L703.57,150.38 L705.39,150.38 L705.65,153.21 L706.69,153.21 L706.95,156.04 L707.21,153.21 L707.73,153.21 L707.99,150.38 L708.25,147.55 L708.77,147.55 L709.03,144.72 L709.29,147.55 L709.55,147.55 L709.81,150.38 L710.07,153.21 L712.15,153.21 L712.41,150.38 L712.93,150.38 L713.19,153.21 L713.71,153.21 L713.97,156.04 L714.23,156.04 L714.49,156.04 L714.75,156.04 L715.01,156.04 L715.27,156.04 L715.53,156.04 L715.79,156.04 L716.05,156.04 L716.31,156.04 L716.57,156.04 L716.83,156.04 L717.09,156.04 L717.35,156.04 L717.61,156.04 L717.87,156.04 L718.13,156.04 L718.39,156.04 L718.65,156.04 L718.91,156.04 L719.17,158.87 L719.43,156.04 L719.69,156.04 L719.95,153.21 L720.21,150.38 L720.47,147.55 L720.73,147.55 L720.99,144.72 L721.51,144.72 L721.77,141.89 L722.29,141.89 L722.55,139.06 L723.33,139.06 L723.59,136.23 L723.85,136.23 L724.11,133.4 L725.15,133.4 L725.41,130.57 L726.71,130.57 L726.97,133.4 L727.23,136.23 L727.49,136.23 L727.75,136.23 L728.01,136.23 L728.27,133.4 L728.53,133.4 L728.79,130.57 L729.31,130.57 L729.57,133.4 L729.83,130.57 L730.09,130.57 L730.35,133.4 L732.43,133.4 L732.69,130.57 L732.95,130.57 L733.21,127.74 L733.47,127.74 L733.73,127.74 L733.99,124.91 L735.55,124.91 L735.81,122.08 L736.07,124.91 L736.33,124.91 L736.59,127.74 L736.85,127.74 L737.11,127.74 L737.37,130.57 L737.63,133.4 L738.41,133.4 L738.67,136.23 L738.93,133.4 L739.19,133.4 L739.45,136.23 L739.71,136.23 L739.97,133.4 L740.23,133.4 L740.49,136.23 L740.75,136.23 L741.01,136.23 L741.27,139.06 L741.53,136.23 L741.79,139.06 L742.31,139.06 L742.57,136.23 L742.83,139.06 L743.61,139.06 L743.87,141.89 L746.47,141.89 L746.73,144.72 L747.77,144.72 L748.03,147.55 L749.33,147.55 L749.59,144.72 L750.63,144.72 L750.89,141.89 L751.67,141.89 L751.93,139.06 L752.45,139.06 L752.71,136.23 L752.97,136.23 L753.23,139.06 L753.75,139.06 L754.01,141.89 L754.27,144.72 L754.53,141.89 L754.79,141.89 L755.05,144.72 L755.31,141.89 L755.83,141.89 L756.09,139.06 L756.35,139.06 L756.61,141.89 L756.87,141.89 L757.13,139.06 L757.39,141.89 L759.73,141.89 L759.99,139.06 L761.03,139.06 L761.29,136.23 L761.55,136.23 L761.81,136.23 L762.07,136.23 L762.33,133.4 L762.59,133.4 L762.85,130.57 L763.63,130.57 L763.89,127.74 L764.15,127.74 L764.41,127.74 L764.67,127.74 L764.93,127.74 L765.19,127.74 L765.45,124.91 L768.31,124.91 L768.57,127.74 L768.83,130.57 L769.35,130.57 L769.61,133.4 L770.39,133.4 L770.65,136.23 L770.91,136.23 L771.17,136.23 L771.43,136.23 L771.69,139.06 L773.51,139.06 L773.77,141.89 L774.29,141.89 L774.55,144.72 L775.07,144.72 L775.33,147.55 L775.59,147.55 L775.85,150.38 L776.11,150.38 L776.37,153.21 L776.63,150.38 L776.89,150.38 L777.15,147.55 L777.41,144.72 L777.67,141.89 L778.71,141.89 L778.97,139.06 L779.75,139.06 L780.01,141.89 L780.79,141.89 L781.05,139.06 L782.87,139.06 L783.13,136.23 L783.39,136.23 L783.65,139.06 L783.91,139.06 L784.17,136.23 L784.43,136.23 L784.69,136.23 L784.95,136.23 L785.21,136.23 L785.47,136.23 L785.73,133.4 L785.99,136.23 L786.25,133.4 L786.51,136.23 L786.77,136.23 L787.03,136.23 L787.29,136.23 L787.55,136.23 L787.81,136.23 L788.07,136.23 L788.33,133.4 L788.59,133.4 L788.85,136.23 L789.11,136.23 L789.37,136.23 L789.63,136.23 L789.89,136.23 L790.15,139.06 L790.93,139.06 L791.19,141.89 L793.79,141.89 L794.05,139.06 L794.31,139.06 L794.57,141.89 L795.09,141.89 L795.35,139.06 L796.39,139.06 L796.65,141.89 L797.43,141.89 L797.69,139.06 L797.95,136.23 L798.21,133.4 L798.47,130.57 L799.51,130.57 L799.77,127.74 L800.03,127.74 L800.29,127.74 L800.55,127.74 L800.81,127.74 L801.07,127.74 L801.33,127.74 L801.59,127.74 L801.85,124.91 L802.63,124.91 L802.89,122.08 L803.67,122.08 L803.93,119.25 L805.49,119.25 L805.75,116.42 L806.79,116.42 L807.05,113.59 L807.31,113.59 L807.57,116.42 L807.83,116.42 L808.09,113.59 L808.87,113.59 L809.13,110.76 L809.39,110.76 L809.65,107.93 L809.91,107.93 L810.17,105.1 L810.43,105.1 L810.69,102.27 L810.95,102.27 L811.21,102.27 L811.47,99.44 L811.99,99.44 L812.25,96.61 L812.51,93.78 L812.77,93.78 L813.03,90.95 L814.07,90.95 L814.33,88.12 L814.85,88.12 L815.11,85.29 L815.37,82.46 L815.63,82.46 L815.89,79.63 L816.15,79.63 L816.41,76.8 L816.67,73.97 L817.19,73.97 L817.45,71.14 L817.71,71.14 L817.97,68.31 L818.75,68.31 L819.01,65.48 L820.05,65.48 L820.31,62.65 L822.91,62.65 L823.17,59.82 L823.43,59.82 L823.69,62.65 L823.95,62.65 L824.21,59.82 L824.47,59.82 L824.73,62.65 L825.51,62.65 L825.77,59.82 L829.15,59.82 L829.41,62.65 L829.67,62.65 L829.93,59.82 L830.19,59.82 L830.45,62.65 L831.23,62.65 L831.49,59.82 L831.75,59.82 L832.01,62.65 L833.31,62.65 L833.57,65.48 L835.13,65.48 L835.39,62.65 L835.65,65.48 L835.91,62.65 L837.47,62.65 L837.73,59.82 L838.51,59.82 L838.77,62.65 L839.03,62.65 L839.29,59.82 L840.07,59.82 L840.33,62.65 L840.59,62.65 L840.85,59.82 L842.15,59.82 L842.41,62.65 L843.19,62.65 L843.45,59.82 L847.87,59.82 L848.13,62.65 L848.39,62.65 L848.65,59.82 L849.17,59.82 L849.43,56.99 L849.69,59.82 L850.99,59.82 L851.25,62.65 L851.51,62.65 L851.77,59.82 L852.81,59.82 L853.07,62.65 L853.85,62.65 L854.11,65.48 L854.37,65.48 L854.63,68.31 L854.89,68.31 L855.15,71.14 L855.41,71.14 L855.67,73.97 L856.19,73.97 L856.45,76.8 L856.71,79.63 L856.97,79.63 L857.23,82.46 L857.49,82.46 L857.75,85.29 L858.01,85.29 L858.27,88.12 L858.79,88.12 L859.05,90.95 L859.31,90.95 L859.57,93.78 L859.83,93.78 L860.09,96.61 L860.61,96.61 L860.87,99.44 L861.13,99.44 L861.39,102.27 L861.65,102.27 L861.91,102.27 L862.17,102.27 L862.43,102.27 L862.69,105.1 L864.25,105.1 L864.51,107.93 L865.03,107.93 L865.29,110.76 L865.81,110.76 L866.07,113.59 L867.63,113.59 L867.89,116.42 L868.93,116.42 L869.19,119.25 L871.01,119.25 L871.27,122.08 L873.35,122.08 L873.61,124.91 L873.87,124.91 L874.13,127.74 L874.39,130.57 L874.91,130.57 L875.17,133.4 L875.43,136.23 L875.69,141.89 L875.95,144.72 L876.21,147.55 L876.47,150.38 L876.73,153.21 L876.99,156.04 L877.25,156.04 L877.51,156.04 L877.77,156.04 L878.03,156.04 L878.29,153.21 L878.55,153.21 L878.81,156.04 L879.07,156.04 L879.33,156.04 L879.59,156.04 L879.85,156.04 L880.11,156.04 L880.37,158.87 L880.63,161.7 L880.89,161.7 L881.15,164.53 L881.41,164.53 L881.67,167.36 L882.19,167.36 L882.45,161.7 L882.71,158.87 L882.97,156.04 L883.23,153.21 L883.49,153.21 L883.75,150.38 L884.01,147.55 L884.27,144.72 L884.79,144.72 L885.05,141.89 L885.31,136.23 L885.57,133.4 L885.83,130.57 L886.09,124.91 L886.35,122.08 L886.61,119.25 L886.87,116.42 L887.13,113.59 L887.39,110.76 L887.65,107.93 L887.91,105.1 L888.17,102.27 L888.43,102.27 L888.69,102.27 L888.95,102.27 L889.21,102.27 L889.47,102.27 L889.73,105.1 L889.99,107.93 L890.25,110.76 L890.51,116.42 L890.77,119.25 L891.03,124.91 L891.29,127.74 L891.55,130.57 L891.81,136.23 L892.07,139.06 L892.33,139.06 L892.59,136.23 L892.85,136.23 L893.11,136.23 L893.37,139.06 L893.89,139.06 L894.15,141.89 L894.41,141.89 L894.67,144.72 L894.93,147.55 L895.19,150.38 L895.45,150.38 L895.71,153.21 L895.97,153.21 L896.23,156.04 L896.49,158.87 L896.75,161.7 L897.27,161.7 L897.53,164.53 L897.79,167.36 L898.05,170.19 L898.31,167.36 L899.09,167.36 L899.35,173.02 L899.61,178.68 L899.87,181.51 L900.13,184.34 L900.39,181.51 L900.65,184.34 L900.91,181.51 L901.17,181.51 L901.43,178.68 L901.69,173.02 L901.95,170.19 L902.21,167.36 L902.47,164.53 L902.73,161.7 L902.99,158.87 L903.25,158.87 L903.51,156.04 L903.77,153.21 L904.03,150.38 L904.29,150.38 L904.55,147.55 L904.81,144.72 L905.07,141.89 L905.33,144.72 L905.59,141.89 L907.41,141.89 L907.67,139.06 L907.93,139.06 L908.19,136.23 L908.45,136.23 L908.71,136.23 L908.97,136.23 L909.23,133.4 L911.05,133.4 L911.31,136.23 L911.57,136.23 L911.83,139.06 L912.35,139.06 L912.61,141.89 L912.87,141.89 L913.13,144.72 L913.39,147.55 L913.65,147.55 L913.91,150.38 L914.17,153.21 L914.43,156.04 L914.69,158.87 L914.95,161.7 L915.21,164.53 L915.47,164.53 L915.73,167.36 L915.99,170.19 L916.25,173.02 L916.51,173.02 L916.77,175.85 L917.03,178.68 L917.29,178.68 L917.55,181.51 L918.85,181.51 L919.11,184.34 L919.37,184.34 L919.63,187.17 L919.89,184.34 L920.15,187.17 L920.41,187.17 L920.67,187.17 L920.93,190 L921.19,190 L921.45,187.17 L921.71,184.34 L921.97,184.34 L922.23,181.51 L922.49,175.85 L922.75,173.02 L923.01,167.36 L923.27,164.53 L923.53,158.87 L923.79,158.87 L924.05,156.04 L924.31,156.04 L924.57,153.21" fill="none" stroke="#73159b" stroke-width="1.1" stroke-linejoin="round"/>
<g stroke="#787878" stroke-width="1" fill="none" shape-rendering="crispEdges"><path d="M65.5,6 V385.5 H924"/></g>
<g font-size="14" fill="#222" text-anchor="middle">
<text x="128.6" y="402.5">00:04:13</text>
<text x="203.9" y="402.5">00:09:13</text>
<text x="279.2" y="402.5">00:14:13</text>
<text x="354.5" y="402.5">00:19:13</text>
<text x="429.8" y="402.5">00:24:13</text>
<text x="505.1" y="402.5">00:29:13</text>
<text x="580.4" y="402.5">00:34:13</text>
<text x="655.7" y="402.5">00:39:13</text>
<text x="731.0" y="402.5">00:44:13</text>
<text x="806.3" y="402.5">00:49:13</text>
<text x="881.6" y="402.5">00:54:13</text>
</g>
<g font-size="14" fill="#222" text-anchor="end">
<text x="61.5" y="54.5">160</text>
<text x="61.5" y="111.5">140</text>
<text x="61.5" y="167.5">120</text>
<text x="61.5" y="224.5">100</text>
<text x="61.5" y="280.5">80</text>
<text x="61.5" y="337.5">60</text>
</g>
<text font-size="16" fill="#505050" text-anchor="middle" transform="translate(25,206) rotate(-90)">Heart Rate (bpm)</text>
</svg></body></html>
